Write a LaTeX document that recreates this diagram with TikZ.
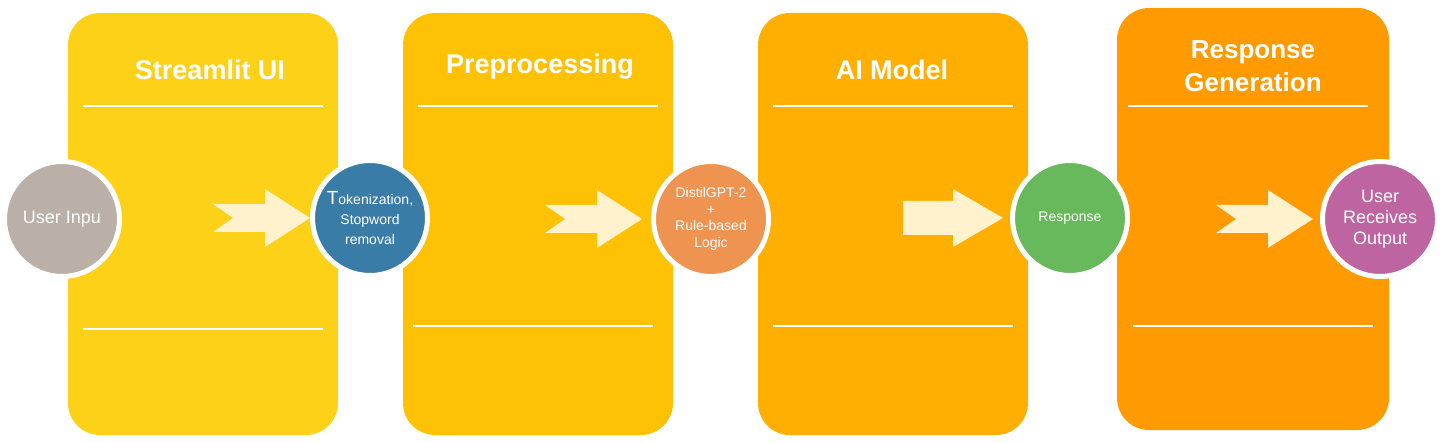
\documentclass[tikz,border=0pt]{standalone}
\usepackage{fontspec}
\setmainfont{Liberation Sans}
\definecolor{boxa}{HTML}{FDD118}
\definecolor{boxb}{HTML}{FEC103}
\definecolor{boxc}{HTML}{FFAF02}
\definecolor{boxd}{HTML}{FF9A01}
\definecolor{cgray}{HTML}{BBB0A8}
\definecolor{cblue}{HTML}{3A7CA8}
\definecolor{corange}{HTML}{EE9350}
\definecolor{cgreen}{HTML}{67B95B}
\definecolor{cpurple}{HTML}{BE64A0}
\definecolor{arrowfill}{HTML}{FFF2CC}

\begin{document}
\begin{tikzpicture}[x=1pt, y=-1pt,
    stage/.style={rectangle, rounded corners=32pt, minimum width=270pt, minimum height=422pt, inner sep=0pt},
    stagetitle/.style={text=white, font=\fontsize{27}{33}\selectfont\bfseries, align=center},
    stepcircle/.style={circle, draw=white, line width=5pt, minimum size=115pt, inner sep=0pt, text=white, align=center},
    sepline/.style={white, line width=2.5pt}]
    \useasboundingbox (0, 0) rectangle (1442, 443);
    \fill[white] (0, 0) rectangle (1442, 443);

    % stages
    \node[stage, fill=boxa] (ui) at (203, 224) {};
    \node[stage, fill=boxb] (pre) at (538, 224) {};
    \node[stage, fill=boxc] (model) at (893, 224) {};
    \node[stage, fill=boxd, minimum width=272pt] (gen) at (1253, 219) {};

    \node[stagetitle, anchor=base] (uititle) at (210, 80) {Streamlit UI};
    \node[stagetitle, anchor=base] (pretitle) at (540, 74) {Preprocessing};
    \node[stagetitle, anchor=base] (modeltitle) at (892, 80) {AI Model};
    \node[stagetitle, font=\fontsize{26}{33}\selectfont\bfseries] (gentitle) at (1253, 66) {Response\\Generation};

    \draw[sepline] (83, 106) -- (323, 106);
    \draw[sepline] (83, 329) -- (323, 329);
    \draw[sepline] (418, 106) -- (658, 106);
    \draw[sepline] (413, 326) -- (653, 326);
    \draw[sepline] (773, 106) -- (1013, 106);
    \draw[sepline] (773, 326) -- (1013, 326);
    \draw[sepline] (1128, 106) -- (1368, 106);
    \draw[sepline] (1133, 326) -- (1373, 326);

    % steps
    \node[stepcircle, fill=cgray, font=\fontsize{18}{21}\selectfont] (user) at (62, 219) {User Inpu};
    \node[stepcircle, fill=cblue, font=\fontsize{14}{20}\selectfont] (tok) at (370, 218) {{\fontsize{19}{20}\selectfont T}okenization,\\Stopword\\removal};
    \node[stepcircle, fill=corange, font=\fontsize{14}{16.5}\selectfont] (distil) at (711, 219) {DistilGPT-2\\+\\Rule-based\\Logic};
    \node[stepcircle, fill=cgreen, font=\fontsize{14}{17}\selectfont] (resp) at (1070, 218) {Response};
    \node[stepcircle, fill=cpurple, font=\fontsize{18}{21}\selectfont] (recv) at (1380, 219) {User\\Receives\\Output};

    % arrows
    \foreach \c/\dx in {tok/0, distil/-9, recv/-7}
        \fill[arrowfill] ([xshift=\dx]\c.west) -- ++(-45, -29) -- ++(0, 15) -- ++(-52, 0) -- ++(20, 14)
            -- ++(-20, 14) -- ++(52, 0) -- ++(0, 15) -- cycle;
    \fill[arrowfill] ([xshift=-7]resp.west) -- ++(-50, -29) -- ++(0, 12) -- ++(-50, 0) -- ++(0, 34)
        -- ++(50, 0) -- ++(0, 12) -- cycle;
\end{tikzpicture}
\end{document}
